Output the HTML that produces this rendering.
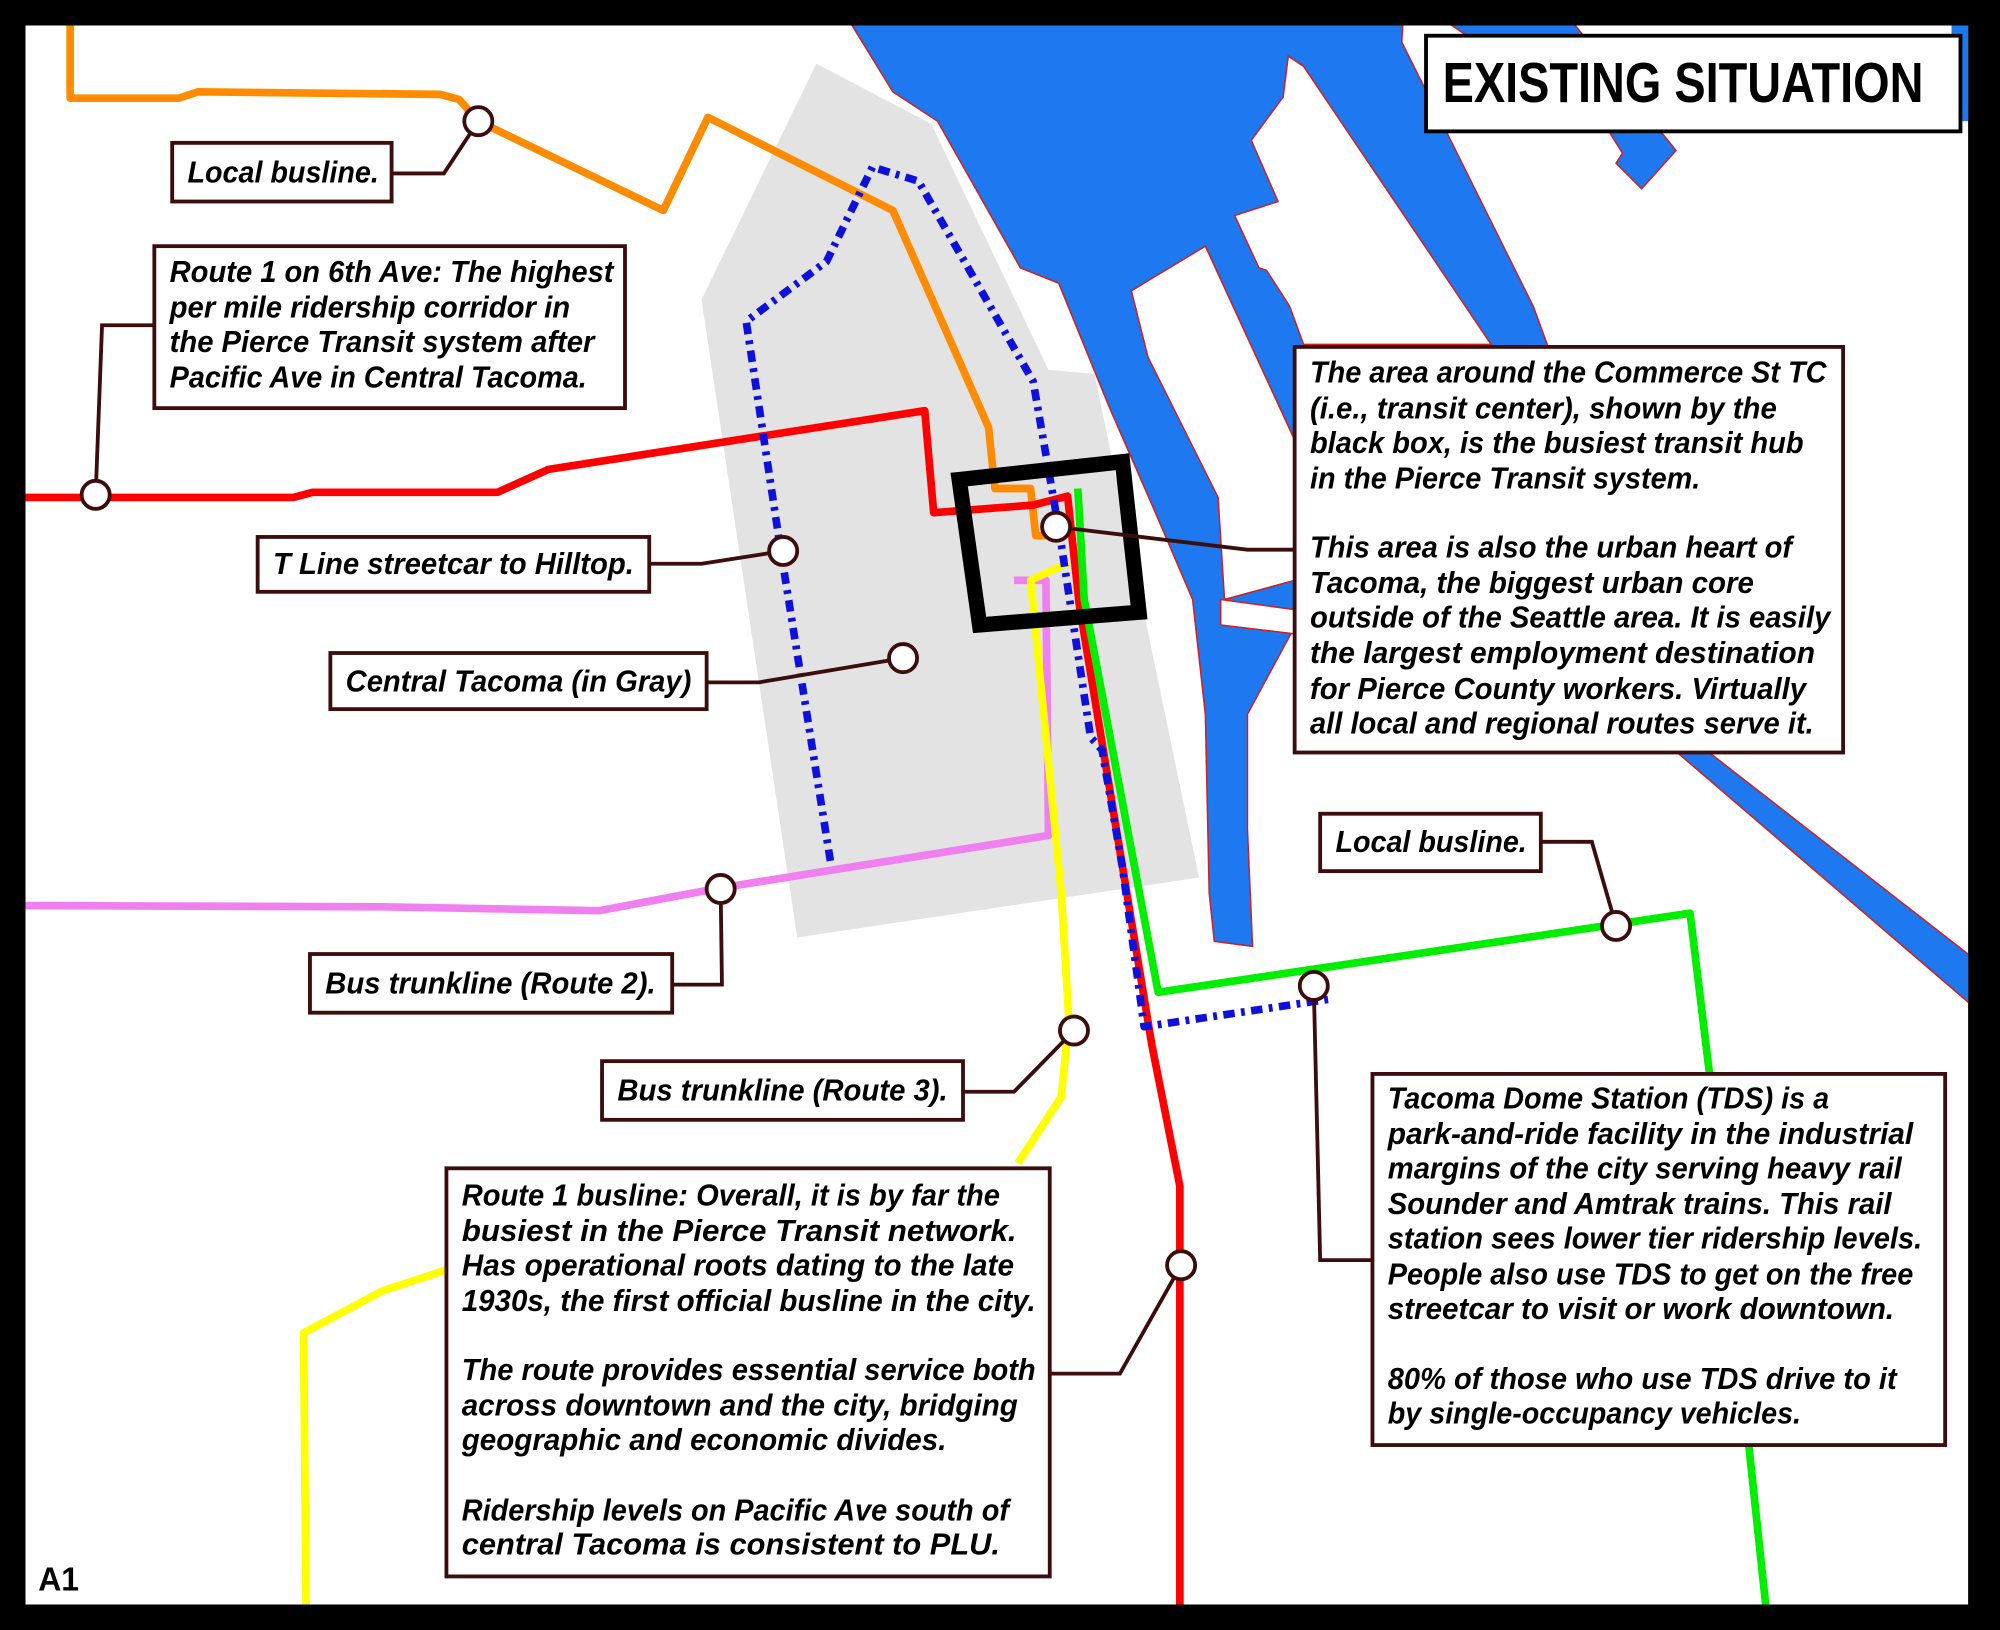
<!DOCTYPE html>
<html><head><meta charset="utf-8"><style>
html,body{margin:0;padding:0;background:#000;}
svg{display:block;}
.t{font-family:"Liberation Sans Narrow","Liberation Sans",sans-serif;font-weight:bold;font-style:italic;font-size:24px;fill:#000;}
.bx{fill:#fff;stroke:#3b0d0d;stroke-width:3;}
.ld{fill:none;stroke:#3b0d0d;stroke-width:3;}
.c{fill:#fff;stroke:#3b0d0d;stroke-width:3;}
.ln{fill:none;stroke-width:6;stroke-linejoin:round;}
.pier{fill:#fff;stroke:#d02020;stroke-width:1.2;}
.wat{fill:#1e78f0;stroke:#d02020;stroke-width:1.2;}
</style></head><body>
<svg width="2000" height="1630" viewBox="0 0 1568 1278" preserveAspectRatio="none" xmlns="http://www.w3.org/2000/svg">
<defs><clipPath id="cp"><rect x="20" y="20" width="1523" height="1238"/></clipPath></defs>
<rect x="0" y="0" width="1568" height="1278" fill="#000"/>
<rect x="20" y="20" width="1523" height="1238" fill="#fff"/>
<g clip-path="url(#cp)">
<!-- water -->
<polygon class="wat" points="665,15 700,72 735,95 800,210 830,222 870,320 905,400 935,470 945,560 948,700 952,738 982,742 978,650 978,560 1012,497 1015,480 1213,270 1202,240 1099,33 1100,15"/>
<polygon class="wat" points="1131,15 1231,15 1314,118 1287,148 1267,128 1272,120 1262,104"/>
<polygon class="wat" points="1315,590 1340,590 1548,752 1548,790"/>
<rect x="1530" y="15" width="18" height="80" fill="#1e78f0"/>
<!-- gray area -->
<polygon fill="#e3e3e3" points="640,50 730,97 822,290 858,293 940,688 625,735 550,235"/>
<!-- piers -->
<polygon class="pier" points="887,228 945,193 1015,345 1015,455 960,470 955,390 900,280"/>
<polygon class="pier" points="1010,44 1022,52 1169,270 1022,270 1011,240 993,212 987,210 968,169 1002,158 981,110 1006,76"/>
<polygon class="pier" points="957,470 1015,478 1015,497 957,490"/>
<!-- transit lines -->
<polyline class="ln" stroke="#ff8c00" points="55,15 55,77 140,77 155,72 345,74 360,78 375,95 520,165 555,92 700,165 775,335 780,383 808,383 812,420 826,420"/>
<polyline class="ln" stroke="#f080f0" points="15,710 300,711 470,714 560,697 822,655 820,455 795,455"/>
<polyline class="ln" stroke="#ffff00" points="240,1265 238,1045 300,1012 352,995"/>
<polyline class="ln" stroke="#ffff00" points="838,441 808,455 832,700 838,800 832,860 798,912"/>
<polyline class="ln" stroke="#ff0000" points="15,390 230,390 245,386 390,386 430,368 725,322 732,402 810,396 837,389 846,473 903,819 925,930 925,1265"/>
<polyline class="ln" stroke="#00ee00" points="845,383 850,470 908,778 1325,716 1340,840 1385,1265"/>
<polyline class="ln" stroke="#1010dd" stroke-dasharray="9,5,3,5" points="651,675 612,431 585,252 648,205 684,131 720,142 810,299 822,368 831,420 855,578 864,588 880,680 897,805 1045,783"/>
<!-- hub box -->
<polygon fill="none" stroke="#000" stroke-width="12" points="752,376 880,362 893,480 768,490"/>
<!-- leaders -->
<polyline class="ld" points="307,136 348,136 375,95"/>
<polyline class="ld" points="121,255 80,255 75,388"/>
<polyline class="ld" points="509,442 550,442 614,432"/>
<polyline class="ld" points="554,535 595,535 708,516"/>
<polyline class="ld" points="828,413 978,431 1015,431"/>
<polyline class="ld" points="527,772 566,772 565,697"/>
<polyline class="ld" points="755,856 795,856 842,808"/>
<polyline class="ld" points="823,1077 878,1077 926,992"/>
<polyline class="ld" points="1076,988 1035,988 1030,773"/>
<polyline class="ld" points="1208,660 1248,660 1267,726"/>
<!-- circles -->
<circle class="c" cx="375" cy="95" r="11"/>
<circle class="c" cx="75" cy="388" r="11"/>
<circle class="c" cx="614" cy="432" r="11"/>
<circle class="c" cx="708" cy="516" r="11"/>
<circle class="c" cx="828" cy="413" r="11"/>
<circle class="c" cx="565" cy="697" r="11"/>
<circle class="c" cx="842" cy="808" r="11"/>
<circle class="c" cx="926" cy="992" r="11"/>
<circle class="c" cx="1030" cy="773" r="11"/>
<circle class="c" cx="1267" cy="726" r="11"/>
</g>
<!-- title -->
<rect x="1118" y="28" width="419" height="75" fill="#fff" stroke="#000" stroke-width="3"/>
<text x="1131" y="80" font-family="Liberation Sans Narrow, Liberation Sans, sans-serif" font-weight="bold" font-size="44" textLength="377" lengthAdjust="spacingAndGlyphs">EXISTING SITUATION</text>
<!-- boxes -->
<rect class="bx" x="135" y="112" width="172" height="46"/>
<text class="t" x="147" y="143" textLength="150" lengthAdjust="spacingAndGlyphs">Local busline.</text>
<rect class="bx" x="121" y="193" width="369" height="127"/>
<text class="t" x="133" y="221" textLength="348" lengthAdjust="spacingAndGlyphs">Route 1 on 6th Ave: The highest</text>
<text class="t" x="133" y="249" textLength="314" lengthAdjust="spacingAndGlyphs">per mile ridership corridor in</text>
<text class="t" x="133" y="276" textLength="333" lengthAdjust="spacingAndGlyphs">the Pierce Transit system after</text>
<text class="t" x="133" y="304" textLength="327" lengthAdjust="spacingAndGlyphs">Pacific Ave in Central Tacoma.</text>
<rect class="bx" x="202" y="421" width="307" height="43"/>
<text class="t" x="214" y="450" textLength="283" lengthAdjust="spacingAndGlyphs">T Line streetcar to Hilltop.</text>
<rect class="bx" x="259" y="512" width="295" height="44"/>
<text class="t" x="271" y="542" textLength="271" lengthAdjust="spacingAndGlyphs">Central Tacoma (in Gray)</text>
<rect class="bx" x="243" y="748" width="284" height="46"/>
<text class="t" x="255" y="779" textLength="259" lengthAdjust="spacingAndGlyphs">Bus trunkline (Route 2).</text>
<rect class="bx" x="472" y="832" width="283" height="46"/>
<text class="t" x="484" y="863" textLength="259" lengthAdjust="spacingAndGlyphs">Bus trunkline (Route 3).</text>
<rect class="bx" x="1035" y="638" width="173" height="45"/>
<text class="t" x="1047" y="668" textLength="150" lengthAdjust="spacingAndGlyphs">Local busline.</text>
<rect class="bx" x="1015" y="272" width="430" height="318"/>
<text class="t" x="1027" y="300" textLength="405" lengthAdjust="spacingAndGlyphs">The area around the Commerce St TC</text>
<text class="t" x="1027" y="328" textLength="366" lengthAdjust="spacingAndGlyphs">(i.e., transit center), shown by the</text>
<text class="t" x="1027" y="355" textLength="387" lengthAdjust="spacingAndGlyphs">black box, is the busiest transit hub</text>
<text class="t" x="1027" y="383" textLength="306" lengthAdjust="spacingAndGlyphs">in the Pierce Transit system.</text>
<text class="t" x="1027" y="437" textLength="378" lengthAdjust="spacingAndGlyphs">This area is also the urban heart of</text>
<text class="t" x="1027" y="465" textLength="348" lengthAdjust="spacingAndGlyphs">Tacoma, the biggest urban core</text>
<text class="t" x="1027" y="492" textLength="408" lengthAdjust="spacingAndGlyphs">outside of the Seattle area. It is easily</text>
<text class="t" x="1027" y="520" textLength="396" lengthAdjust="spacingAndGlyphs">the largest employment destination</text>
<text class="t" x="1027" y="548" textLength="389" lengthAdjust="spacingAndGlyphs">for Pierce County workers. Virtually</text>
<text class="t" x="1027" y="575" textLength="395" lengthAdjust="spacingAndGlyphs">all local and regional routes serve it.</text>
<rect class="bx" x="350" y="916" width="473" height="320"/>
<text class="t" x="362" y="945" textLength="422" lengthAdjust="spacingAndGlyphs">Route 1 busline: Overall, it is by far the</text>
<text class="t" x="362" y="973" textLength="435" lengthAdjust="spacingAndGlyphs">busiest in the Pierce Transit network.</text>
<text class="t" x="362" y="1000" textLength="433" lengthAdjust="spacingAndGlyphs">Has operational roots dating to the late</text>
<text class="t" x="362" y="1028" textLength="450" lengthAdjust="spacingAndGlyphs">1930s, the first official busline in the city.</text>
<text class="t" x="362" y="1082" textLength="450" lengthAdjust="spacingAndGlyphs">The route provides essential service both</text>
<text class="t" x="362" y="1110" textLength="436" lengthAdjust="spacingAndGlyphs">across downtown and the city, bridging</text>
<text class="t" x="362" y="1137" textLength="380" lengthAdjust="spacingAndGlyphs">geographic and economic divides.</text>
<text class="t" x="362" y="1192" textLength="429" lengthAdjust="spacingAndGlyphs">Ridership levels on Pacific Ave south of</text>
<text class="t" x="362" y="1219" textLength="422" lengthAdjust="spacingAndGlyphs">central Tacoma is consistent to PLU.</text>
<rect class="bx" x="1076" y="842" width="449" height="291"/>
<text class="t" x="1088" y="869" textLength="346" lengthAdjust="spacingAndGlyphs">Tacoma Dome Station (TDS) is a</text>
<text class="t" x="1088" y="897" textLength="412" lengthAdjust="spacingAndGlyphs">park-and-ride facility in the industrial</text>
<text class="t" x="1088" y="924" textLength="403" lengthAdjust="spacingAndGlyphs">margins of the city serving heavy rail</text>
<text class="t" x="1088" y="952" textLength="395" lengthAdjust="spacingAndGlyphs">Sounder and Amtrak trains. This rail</text>
<text class="t" x="1088" y="979" textLength="419" lengthAdjust="spacingAndGlyphs">station sees lower tier ridership levels.</text>
<text class="t" x="1088" y="1007" textLength="412" lengthAdjust="spacingAndGlyphs">People also use TDS to get on the free</text>
<text class="t" x="1088" y="1034" textLength="397" lengthAdjust="spacingAndGlyphs">streetcar to visit or work downtown.</text>
<text class="t" x="1088" y="1089" textLength="399" lengthAdjust="spacingAndGlyphs">80% of those who use TDS drive to it</text>
<text class="t" x="1088" y="1116" textLength="324" lengthAdjust="spacingAndGlyphs">by single-occupancy vehicles.</text>
<text x="30" y="1247" font-family="Liberation Sans Narrow, Liberation Sans, sans-serif" font-weight="bold" font-size="26" textLength="32" lengthAdjust="spacingAndGlyphs">A1</text>
</svg>
</body></html>
